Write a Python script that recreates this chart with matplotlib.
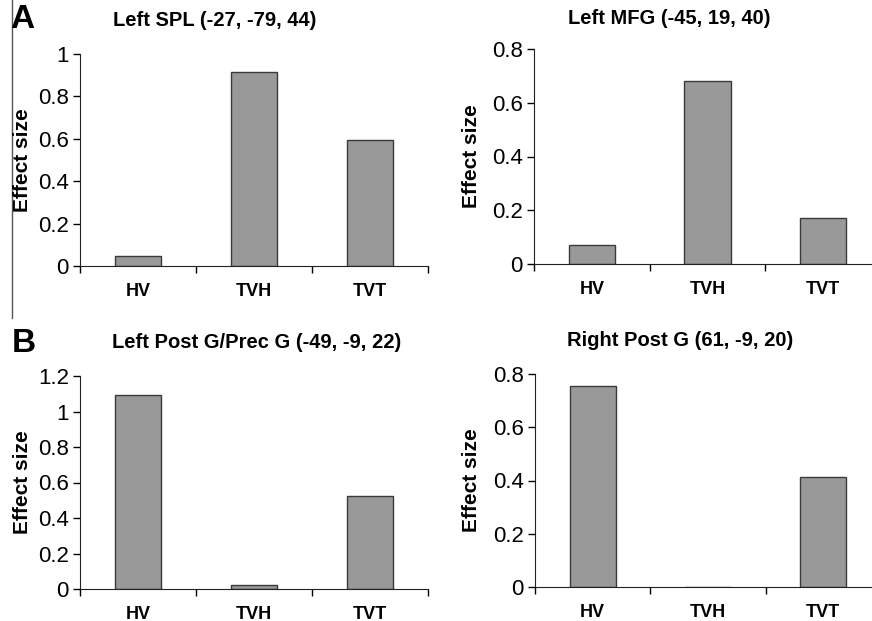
import matplotlib.pyplot as plt
from matplotlib.lines import Line2D

plt.rcParams['font.family'] = ['Liberation Sans', 'DejaVu Sans']

categories = ['HV', 'TVH', 'TVT']

spl_values = [0.045, 0.915, 0.594]
mfg_values = [0.07, 0.682, 0.170]
postg_prec_values = [1.091, 0.02, 0.526]
right_postg_values = [0.756, 0.0, 0.413]

titles = ['Left SPL (-27, -79, 44)', 'Left MFG (-45, 19, 40)',
          'Left Post G/Prec G (-49, -9, 22)', 'Right Post G (61, -9, 20)']
ytop = [1.0, 0.8, 1.2, 0.8]
yticks = [[0, 0.2, 0.4, 0.6, 0.8, 1],
          [0, 0.2, 0.4, 0.6, 0.8],
          [0, 0.2, 0.4, 0.6, 0.8, 1, 1.2],
          [0, 0.2, 0.4, 0.6, 0.8]]
yticklabels = [['0', '0.2', '0.4', '0.6', '0.8', '1'],
               ['0', '0.2', '0.4', '0.6', '0.8'],
               ['0', '0.2', '0.4', '0.6', '0.8', '1', '1.2'],
               ['0', '0.2', '0.4', '0.6', '0.8']]
all_values = [spl_values, mfg_values, postg_prec_values, right_postg_values]

W, H = 872, 621
fig = plt.figure(figsize=(W / 100, H / 100), dpi=100)

# axes boxes in pixels: left, right, bottom(y=0), top(y=max)
boxes = [(80, 428, 266, 54), (534, 881, 264, 49),
         (80, 428, 589, 376), (535, 881, 587, 374)]
title_pos = [(215, 20), (669, 18), (257, 343), (680, 340)]
ylabel_x = [23, 471, 23, 471]

for i, vals in enumerate(all_values):
    l, r, b, t = boxes[i]
    ax = fig.add_axes([l / W, (H - b) / H, (r - l) / W, (b - t) / H])
    x = [0.5, 1.5, 2.5]
    ax.bar(x, vals, width=0.4, color='#999999', edgecolor='#3a3a3a', linewidth=1)
    ax.set_xlim(0, 3)
    ax.set_ylim(0, ytop[i])
    ax.set_yticks(yticks[i])
    ax.set_yticklabels(yticklabels[i], fontsize=16)
    ax.set_xticks([0, 1, 2, 3])
    ax.set_xticklabels([])
    ax.set_xticks(x, minor=True)
    ax.set_xticklabels(categories, minor=True, fontsize=13, fontweight='bold')
    ax.tick_params(axis='x', which='minor', length=0, pad=12)
    ax.tick_params(axis='x', which='major', length=5, width=1, direction='out')
    ax.tick_params(axis='y', length=5, width=1, pad=3)
    for s in ['top', 'right']:
        ax.spines[s].set_visible(False)
    for s in ['left', 'bottom']:
        ax.spines[s].set_color('#222222')
    ax.set_facecolor('none')
    fig.text(title_pos[i][0] / W, 1 - title_pos[i][1] / H, titles[i],
             ha='center', va='center', fontsize=14.5, fontweight='bold')
    fig.text(ylabel_x[i] / W, 1 - ((t + b) / 2) / H, 'Effect size', rotation=90,
             ha='center', va='center', fontsize=15, fontweight='bold')

fig.text(22 / W, 1 - 20 / H, 'A', ha='center', va='center', fontsize=24, fontweight='bold')
fig.text(24 / W, 1 - 343 / H, 'B', ha='center', va='center', fontsize=24, fontweight='bold')
fig.add_artist(Line2D([12 / W, 12 / W], [1, 1 - 318 / H], color='#555555', linewidth=1))

fig.savefig('out.png', dpi=100)
